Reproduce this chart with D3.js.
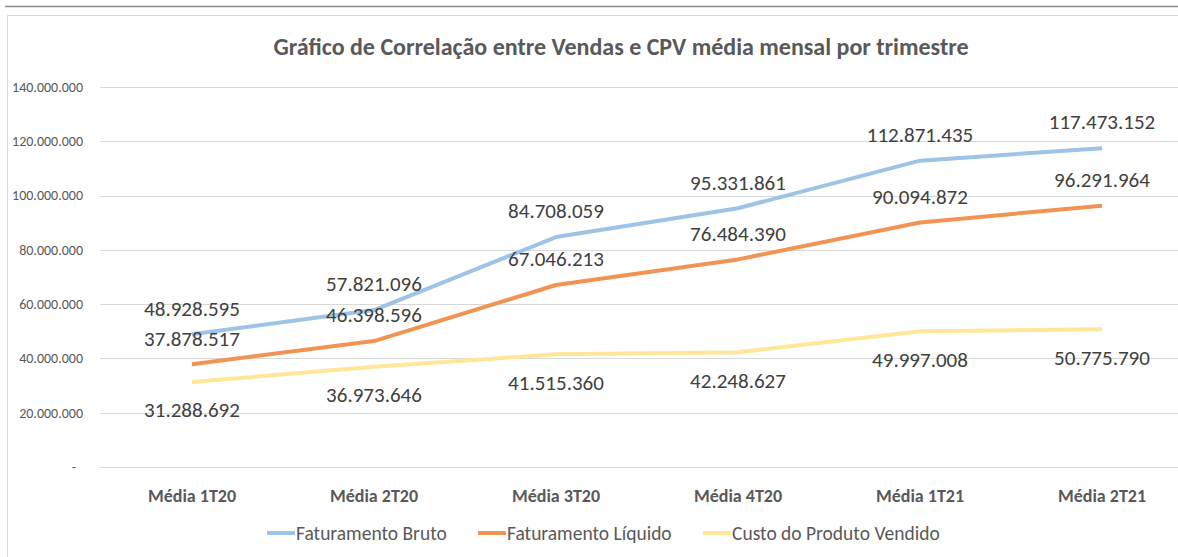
<!DOCTYPE html>
<html>
<head>
<meta charset="utf-8">
<script src="https://cdn.jsdelivr.net/npm/d3@7"></script>
<style>
  html, body { margin: 0; padding: 0; background: #fff; }
  svg { display: block; }
</style>
</head>
<body>
<script>
// chart values
const categories = ["Média 1T20", "Média 2T20", "Média 3T20", "Média 4T20", "Média 1T21", "Média 2T21"];
const bruto = [48928595, 57821096, 84708059, 95331861, 112871435, 117473152];
const liquido = [37878517, 46398596, 67046213, 76484390, 90094872, 96291964];
const cpv = [31288692, 36973646, 41515360, 42248627, 49997008, 50775790];
const seriesNames = ["Faturamento Bruto", "Faturamento Líquido", "Custo do Produto Vendido"];
const yTicks = [0, 20000000, 40000000, 60000000, 80000000, 100000000, 120000000, 140000000];
const title = "Gráfico de Correlação entre Vendas e CPV média mensal por trimestre";

const width = 1178, height = 557;
const font = "Carlito, Calibri, Lato, 'Open Sans', sans-serif";
const textColor = "#595959";

const series = [
    { name: seriesNames[0], values: bruto, color: "#9dc3e6", labelPos: "above" },
    { name: seriesNames[1], values: liquido, color: "#f19453", labelPos: "above" },
    { name: seriesNames[2], values: cpv, color: "#ffe699", labelPos: "below" }
];

const svg = d3.select("body").append("svg")
    .attr("width", width)
    .attr("height", height);

// frame lines
svg.append("line")
    .attr("x1", 5).attr("x2", width).attr("y1", 6.5).attr("y2", 6.5)
    .attr("stroke", "#8c8c8c").attr("stroke-width", 1.5);
svg.append("rect")
    .attr("x", 7.5).attr("y", 15.5)
    .attr("width", width + 10).attr("height", height)
    .attr("fill", "none").attr("stroke", "#d9d9d9").attr("stroke-width", 1);

// scales
const x = d3.scaleBand().domain(categories).range([101, 1193]);
const y = d3.scaleLinear().domain([0, 140000000]).range([467, 87]);
const cx = d => x(d) + x.bandwidth() / 2;

const fmt = v => v === 0 ? "-" : d3.format(",")(v).replace(/,/g, ".");

// title
svg.append("text")
    .attr("x", 621).attr("y", 55)
    .attr("text-anchor", "middle")
    .style("font-family", font)
    .style("font-size", "24px")
    .style("font-weight", "bold")
    .style("fill", textColor)
    .text(title);

// grid
svg.append("g")
    .selectAll("line")
    .data(yTicks)
    .join("line")
    .attr("x1", 100).attr("x2", width)
    .attr("y1", d => Math.round(y(d)) + 0.5)
    .attr("y2", d => Math.round(y(d)) + 0.5)
    .attr("stroke", "#d9d9d9")
    .attr("stroke-width", 1);

// y axis labels
svg.append("g")
    .selectAll("text")
    .data(yTicks)
    .join("text")
    .attr("x", d => d === 0 ? 76 : 83)
    .attr("y", d => y(d))
    .attr("dy", "0.35em")
    .attr("text-anchor", "end")
    .style("font-family", font)
    .style("font-size", "14px")
    .style("fill", textColor)
    .text(fmt);

// x axis labels
svg.append("g")
    .selectAll("text")
    .data(categories)
    .join("text")
    .attr("x", d => cx(d))
    .attr("y", 502)
    .attr("text-anchor", "middle")
    .style("font-family", font)
    .style("font-size", "18px")
    .style("font-weight", "bold")
    .style("fill", textColor)
    .text(d => d);

// lines
const line = d3.line()
    .x((d, i) => cx(categories[i]))
    .y(d => y(d));

svg.append("g")
    .selectAll("path")
    .data(series)
    .join("path")
    .attr("d", d => line(d.values))
    .attr("fill", "none")
    .attr("stroke", d => d.color)
    .attr("stroke-width", 4)
    .attr("stroke-linejoin", "round");

// data labels
series.forEach(s => {
    svg.append("g")
        .selectAll("text")
        .data(s.values)
        .join("text")
        .attr("x", (d, i) => cx(categories[i]))
        .attr("y", d => y(d) + (s.labelPos === "above" ? -26 : 28))
        .attr("dy", "0.35em")
        .attr("text-anchor", "middle")
        .style("font-family", font)
        .style("font-size", "21px")
        .style("fill", "#404040")
        .text(fmt);
});

// legend
const legendX = [267, 478, 703];
const legend = svg.append("g")
    .selectAll("g")
    .data(series)
    .join("g")
    .attr("transform", (d, i) => `translate(${legendX[i]},533)`);

legend.append("line")
    .attr("x1", 0).attr("x2", 28)
    .attr("stroke", d => d.color)
    .attr("stroke-width", 4);

legend.append("text")
    .attr("x", 29)
    .attr("dy", "0.35em")
    .style("font-family", font)
    .style("font-size", "19.5px")
    .style("fill", textColor)
    .text(d => d.name);
</script>
</body>
</html>
